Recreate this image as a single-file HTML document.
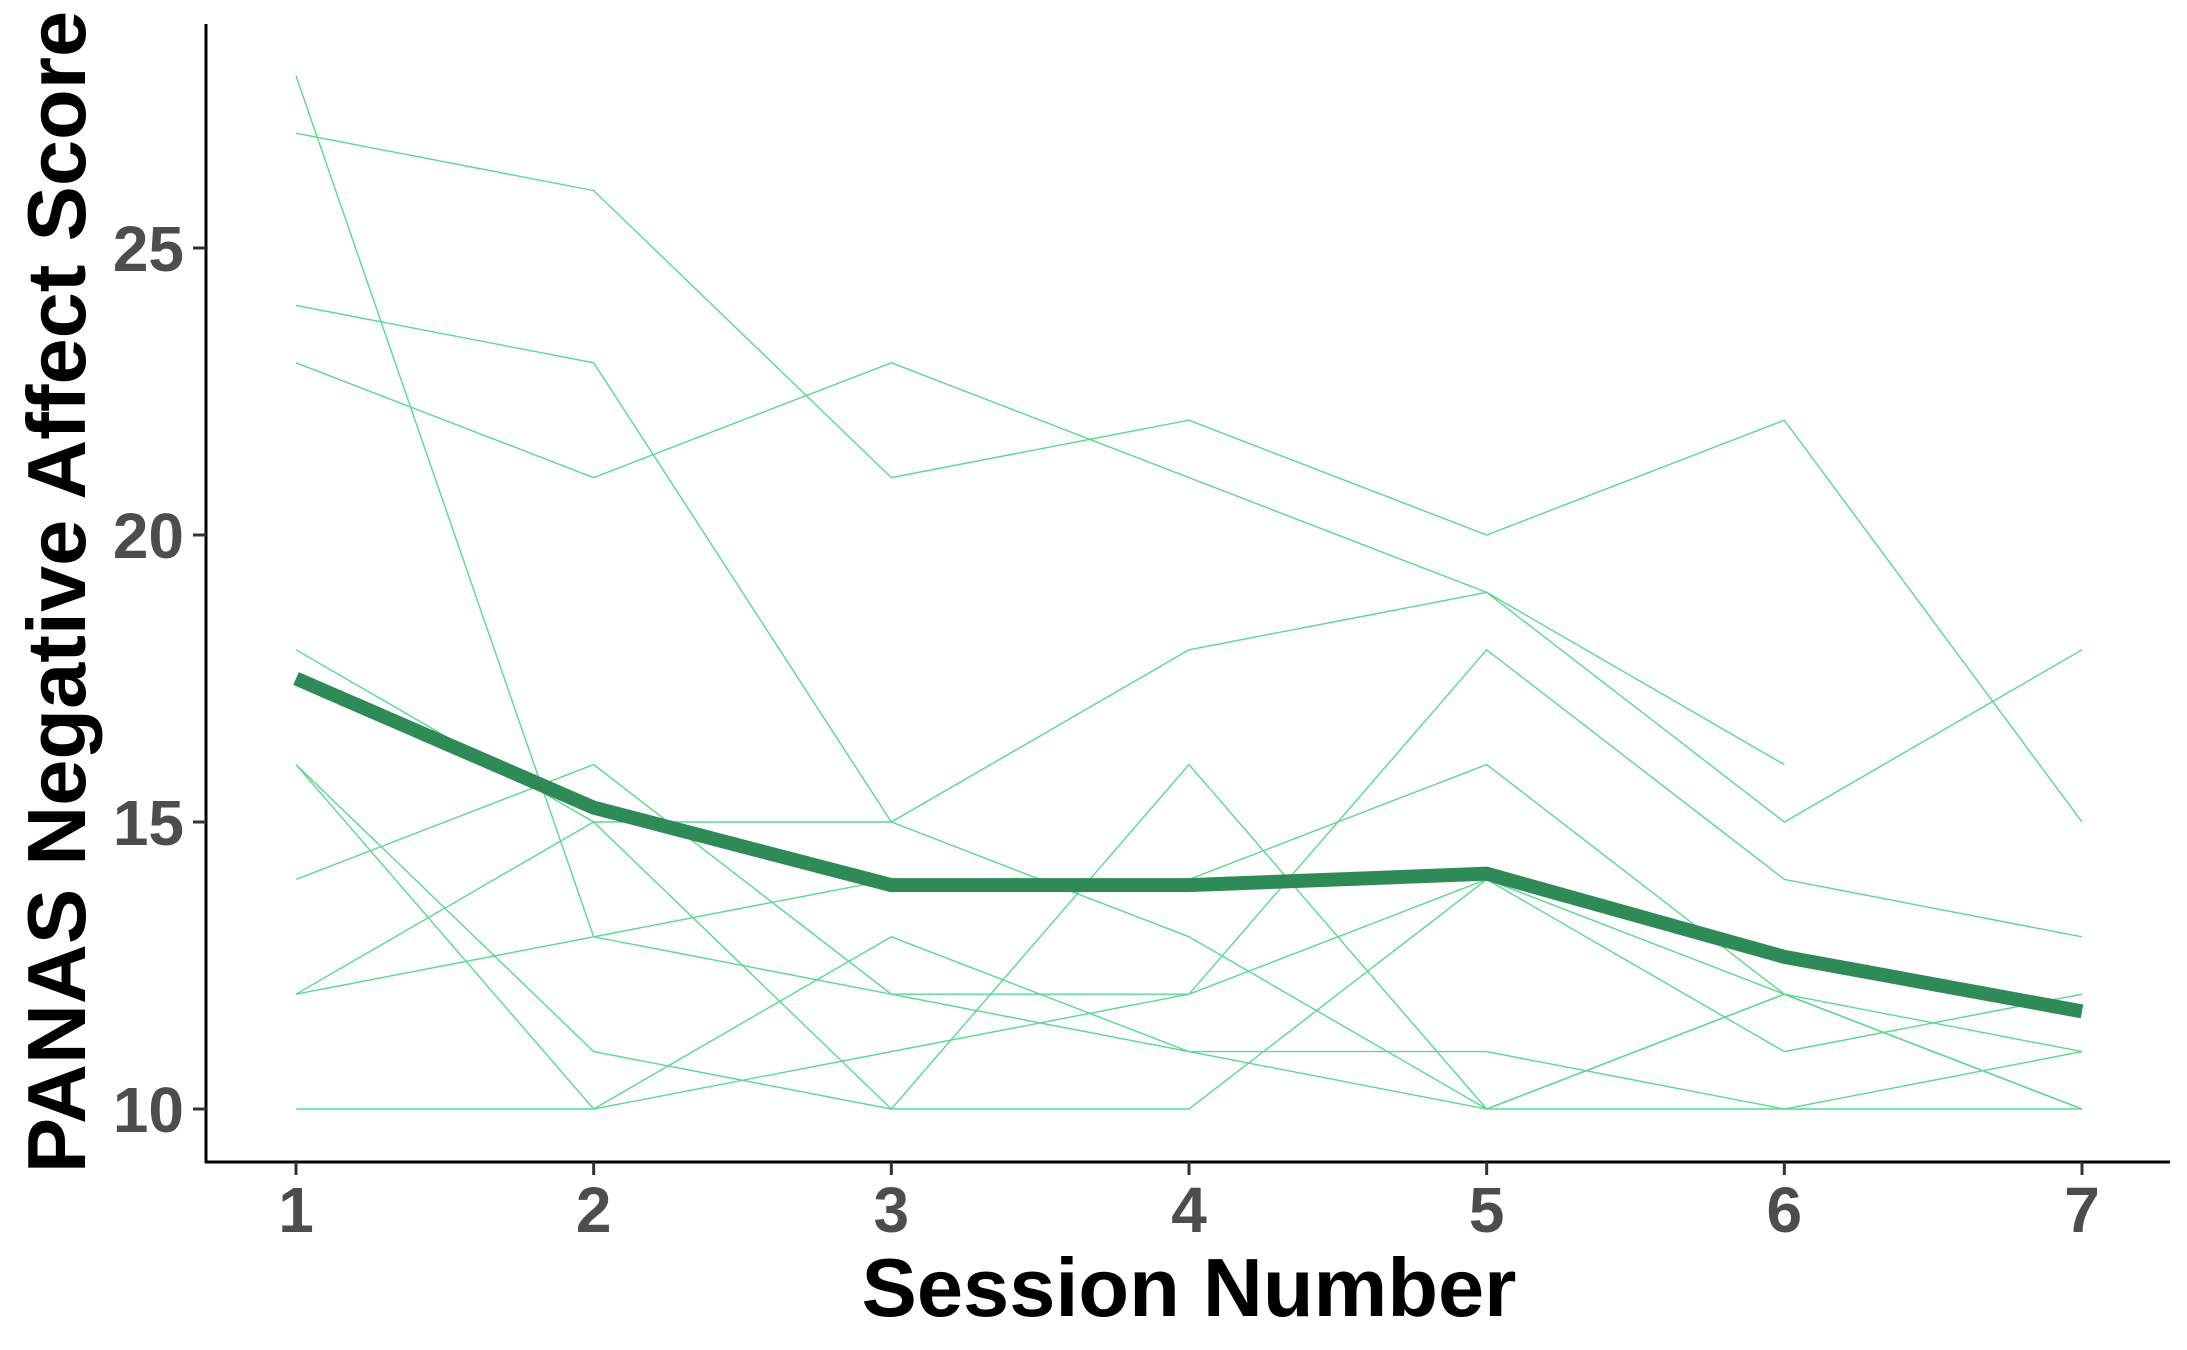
<!DOCTYPE html>
<html><head><meta charset="utf-8"><style>
body{margin:0;background:#fff}
svg{display:block;font-family:"Liberation Sans",Arial,sans-serif}
</style></head><body>
<svg id="chart" width="2187" height="1350" viewBox="0 0 2187 1350" xmlns="http://www.w3.org/2000/svg">
<g id="lines"></g>
<g id="axes"></g>
</svg>
<script>
const sessions=[1,2,3,4,5,6,7];
const yTicks=[10,15,20,25];
const p1=[28,13,12,12,18,14,13];
const p2=[27,26,21,22,20,22,15];
const p3=[24,23,15,18,19,16,null];
const p4=[23,21,23,21,19,15,18];
const p5=[18,15,10,16,10,12,10];
const p6=[16,11,10,10,14,11,12];
const p7=[16,10,13,11,11,10,11];
const p8=[14,16,12,11,10,12,10];
const p9=[12,15,15,13,10,10,10];
const p10=[12,13,14,14,16,12,11];
const p11=[10,10,11,12,14,12,10];
const participants=[p1,p2,p3,p4,p5,p6,p7,p8,p9,p10,p11];
const meanScores=[17.5,15.25,13.9,13.9,14.1,12.65,11.7];
const NS="http://www.w3.org/2000/svg";
const xS=s=>296+(s-1)*(2082-296)/6;
const yS=v=>1109-(v-10)*(1109-248)/15;
function mk(t,a,p){const e=document.createElementNS(NS,t);for(const k in a)e.setAttribute(k,a[k]);p.appendChild(e);return e;}
const L=document.getElementById('lines'),A=document.getElementById('axes');
function pathFor(arr){let d='',pen=false;arr.forEach((v,i)=>{if(v==null){pen=false;return;}d+=(pen?'L':'M')+xS(sessions[i])+' '+yS(v)+' ';pen=true;});return d;}
participants.forEach((arr,i)=>{
 const p=mk('path',{d:pathFor(arr),fill:'none',stroke:'#5ad892','stroke-width':1.4},L);
 
 
});
const m=mk('path',{d:pathFor(meanScores),fill:'none',stroke:'#2e8b57','stroke-width':14},L);


const ya=mk('line',{x1:206,y1:24,x2:206,y2:1163,stroke:'#000','stroke-width':3},A);


const xa=mk('line',{x1:205,y1:1162,x2:2170,y2:1162,stroke:'#000','stroke-width':3},A);


yTicks.forEach(v=>{
 const tk=mk('line',{x1:193,x2:206,y1:yS(v),y2:yS(v),stroke:'#333','stroke-width':3},A);
 
 
 const t=mk('text',{x:184,y:yS(v)+23,'text-anchor':'end','font-size':64,'font-weight':'bold',fill:'#4d4d4d'},A);
 t.textContent=v;
 
 
});
sessions.forEach(s=>{
 const tk=mk('line',{x1:xS(s),x2:xS(s),y1:1162,y2:1175,stroke:'#333','stroke-width':3},A);
 
 
 const t=mk('text',{x:xS(s),y:1232,'text-anchor':'middle','font-size':64,'font-weight':'bold',fill:'#4d4d4d'},A);
 t.textContent=s;
 
 
});
const xt=mk('text',{x:1189,y:1316,'text-anchor':'middle','font-size':83,'font-weight':'bold',fill:'#000'},A);
xt.textContent='Session Number';


const yt=mk('text',{x:0,y:0,'text-anchor':'middle','font-size':83,'font-weight':'bold',fill:'#000',transform:'translate(85,592) rotate(-90)'},A);
yt.textContent='PANAS Negative Affect Score';


</script>
</body></html>
